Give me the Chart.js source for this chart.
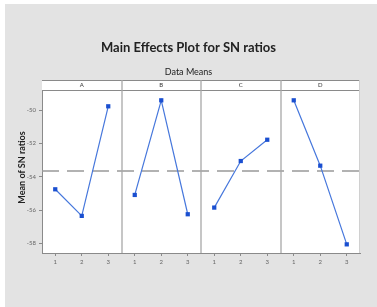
<!DOCTYPE html>
<html>
<head>
<meta charset="utf-8">
<script src="https://cdn.jsdelivr.net/npm/chart.js@4/dist/chart.umd.min.js"></script>
<style>
  html, body { margin: 0; padding: 0; background: #ffffff; }
  #wrap { position: relative; width: 377px; height: 307px; }
</style>
</head>
<body>
<div id="wrap"><canvas id="chart" width="377" height="307"></canvas></div>
<script>
// Factors (one panel each) and their levels.
const factors = ["A", "B", "C", "D"];
const levels = [1, 2, 3];

// Mean of SN ratios per level.
const meansA = [-54.75, -56.35, -49.76];
const meansB = [-55.09, -49.4, -56.25];
const meansC = [-55.85, -53.05, -51.77];
const meansD = [-49.4, -53.33, -58.06];
const grandMean = -53.65;

const yTicks = [-50, -52, -54, -56, -58];

const allMeans = [meansA, meansB, meansC, meansD];
const lineColor = "#4677dc";
const pointColor = "#1a4fd0";
const frameColor = "#a8a8a8";

// Each factor gets its own dataset, shifted into its own panel on x.
const datasets = allMeans.map((means, k) => ({
  label: factors[k],
  data: means.map((v, i) => ({ x: k * levels.length + levels[i], y: v })),
  borderColor: lineColor,
  borderWidth: 1.2,
  pointStyle: "rect",
  pointRadius: 3,
  pointBackgroundColor: pointColor,
  pointBorderColor: pointColor,
  pointBorderWidth: 0,
  fill: false,
  tension: 0,
}));

// Background, titles, panel header strip, separators and mean line.
const decorations = {
  id: "decorations",
  beforeDraw(chart) {
    const { ctx, chartArea: a } = chart;
    ctx.save();
    ctx.fillStyle = "#e3e3e3";
    ctx.fillRect(5, 4, chart.width - 5, chart.height - 4);
    ctx.fillStyle = "#ffffff";
    ctx.fillRect(a.left, a.top - 10, a.right - a.left, a.bottom - a.top + 10);
    ctx.restore();
  },
  beforeDatasetsDraw(chart) {
    const { ctx, chartArea: a, scales } = chart;
    const x = scales.x;
    const y = scales.y;
    const hTop = a.top - 10;
    ctx.save();

    // mean reference line
    ctx.strokeStyle = "#999999";
    ctx.lineWidth = 1.3;
    ctx.setLineDash([17, 8]);
    const ym = y.getPixelForValue(grandMean);
    ctx.beginPath();
    ctx.moveTo(a.left, ym);
    ctx.lineTo(a.right, ym);
    ctx.stroke();
    ctx.setLineDash([]);

    // header strip lines
    ctx.strokeStyle = "#8a8a8a";
    ctx.lineWidth = 1;
    ctx.beginPath();
    ctx.moveTo(a.left, hTop + 0.5);
    ctx.lineTo(a.right, hTop + 0.5);
    ctx.moveTo(a.left, a.top + 0.5);
    ctx.lineTo(a.right, a.top + 0.5);
    ctx.stroke();

    // panel separators
    ctx.strokeStyle = frameColor;
    ctx.lineWidth = 1.3;
    for (let k = 1; k < factors.length; k++) {
      const px = Math.round(x.getPixelForValue(k * levels.length + 0.5));
      ctx.beginPath();
      ctx.moveTo(px, hTop);
      ctx.lineTo(px, a.bottom);
      ctx.stroke();
    }
    ctx.strokeStyle = "#d0d0d0";
    ctx.lineWidth = 1;
    ctx.beginPath();
    ctx.moveTo(a.right - 0.5, hTop);
    ctx.lineTo(a.right - 0.5, a.bottom);
    ctx.stroke();

    // header labels
    ctx.fillStyle = "#333333";
    ctx.font = "6px Lato, 'DejaVu Sans', sans-serif";
    ctx.textAlign = "center";
    ctx.textBaseline = "middle";
    factors.forEach((f, k) => {
      const cx = x.getPixelForValue(k * levels.length + 2);
      ctx.fillText(f, cx, hTop + 5.5);
    });

    // titles
    ctx.fillStyle = "#222222";
    ctx.font = "bold 13px Lato, 'Open Sans', sans-serif";
    ctx.fillText("Main Effects Plot for SN ratios", chart.width / 2, 48);
    ctx.font = "9px Lato, 'Open Sans', sans-serif";
    ctx.fillText("Data Means", chart.width / 2, 72);

    // y axis title
    ctx.translate(22, (a.top + a.bottom) / 2 - 4);
    ctx.rotate(-Math.PI / 2);
    ctx.font = "bold 9px Lato, 'Open Sans', sans-serif";
    ctx.fillText("Mean of SN ratios", 0, 0);
    ctx.restore();
  },
};

new Chart(document.getElementById("chart"), {
  type: "line",
  data: { datasets },
  options: {
    responsive: false,
    animation: false,
    layout: { padding: { top: 90, right: 17, left: 0, bottom: 0 } },
    plugins: {
      legend: { display: false },
      tooltip: { enabled: false },
      title: { display: false },
    },
    scales: {
      x: {
        type: "linear",
        min: 0.5,
        max: factors.length * levels.length + 0.5,
        afterBuildTicks: (scale) => {
          const t = [];
          factors.forEach((f, k) => levels.forEach((l) => t.push({ value: k * levels.length + l })));
          scale.ticks = t;
        },
        afterFit: (scale) => { scale.height = 54; },
        ticks: {
          color: "#666666",
          font: { size: 6, family: "Lato, 'DejaVu Sans', sans-serif" },
          padding: 2,
          maxRotation: 0,
          callback: (v) => String(((v - 1) % levels.length) + 1),
        },
        grid: { drawOnChartArea: false, drawTicks: true, tickLength: 3, color: "#8a8a8a" },
        border: { display: true, color: "#8a8a8a", width: 1 },
      },
      y: {
        type: "linear",
        min: -58.58,
        max: -48.78,
        afterBuildTicks: (scale) => { scale.ticks = yTicks.map((v) => ({ value: v })); },
        afterFit: (scale) => { scale.width = 42; },
        ticks: {
          color: "#666666",
          font: { size: 6, family: "Lato, 'DejaVu Sans', sans-serif" },
          padding: 3,
          callback: (v) => String(v),
        },
        grid: { drawOnChartArea: false, drawTicks: true, tickLength: 3, color: "#8a8a8a" },
        border: { display: true, color: "#8a8a8a", width: 1 },
      },
    },
  },
  plugins: [decorations],
});
</script>
</body>
</html>
